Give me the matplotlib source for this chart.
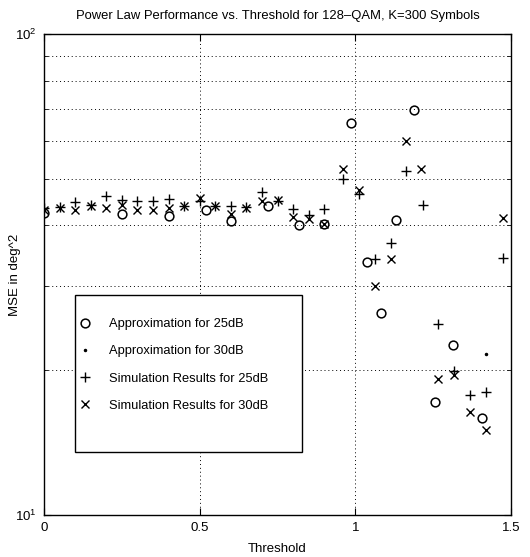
import matplotlib
matplotlib.use("Agg")
import matplotlib.pyplot as plt
from matplotlib.ticker import LogLocator, FixedLocator, NullFormatter
from matplotlib.patches import Rectangle

plt.rcParams['font.family'] = ['Liberation Sans', 'DejaVu Sans']
plt.rcParams['mathtext.fontset'] = 'custom'
plt.rcParams['mathtext.rm'] = 'Liberation Sans'

# Approximation for 25 dB (o)
approx25_x = [0.0, 0.25, 0.40, 0.52, 0.60, 0.72, 0.82, 0.90, 0.985, 1.036, 1.084, 1.13, 1.19, 1.256, 1.315, 1.407]
approx25_y = [42.4, 42.2, 41.9, 43.1, 40.9, 43.8, 40.0, 40.2, 65.2, 33.6, 26.3, 41.1, 69.5, 17.2, 22.6, 15.9]

# Approximation for 30 dB (.)
approx30_x = [1.42]
approx30_y = [21.6]

# Simulation results for 25 dB (+)
sim25_x = [0.0, 0.05, 0.10, 0.15, 0.20, 0.25, 0.30, 0.35, 0.40, 0.45, 0.50, 0.55, 0.60, 0.65, 0.70, 0.75, 0.80, 0.85, 0.90,
           0.961, 1.012, 1.063, 1.116, 1.163, 1.216, 1.266, 1.317, 1.368, 1.42, 1.475]
sim25_y = [43.5, 43.6, 44.8, 44.0, 46.1, 45.2, 45.0, 45.0, 45.4, 43.9, 45.0, 43.9, 43.8, 43.6, 46.9, 45.0, 43.3, 42.0, 43.3,
           49.9, 46.6, 34.0, 36.8, 51.9, 44.1, 24.9, 19.9, 17.8, 18.0, 34.3]

# Simulation results for 30 dB (x)
sim30_x = [0.0, 0.05, 0.10, 0.15, 0.20, 0.25, 0.30, 0.35, 0.40, 0.45, 0.50, 0.55, 0.60, 0.65, 0.70, 0.75, 0.80, 0.85, 0.90,
           0.961, 1.012, 1.063, 1.114, 1.162, 1.212, 1.266, 1.317, 1.369, 1.42, 1.473]
sim30_y = [43.1, 43.4, 43.1, 43.8, 43.4, 44.0, 43.1, 43.1, 43.5, 43.8, 45.7, 43.8, 42.2, 43.5, 45.0, 45.2, 41.7, 41.3, 40.2,
           52.4, 47.4, 29.9, 34.0, 59.9, 52.4, 19.2, 19.5, 16.4, 15.0, 41.5]

labels = ['Approximation for 25dB', 'Approximation for 30dB',
          'Simulation Results for 25dB', 'Simulation Results for 30dB']
title = 'Power Law Performance vs. Threshold for 128\u2013QAM, K=300 Symbols'

fig = plt.figure(figsize=(5.30, 5.57), dpi=100)
ax = fig.add_axes([44/530, 42/557, 467/530, 481/557])

ax.plot(approx25_x, approx25_y, linestyle='none', marker='o', markersize=6.3, markerfacecolor='none',
        markeredgecolor='black', markeredgewidth=1.1, label=labels[0])
ax.plot(approx30_x, approx30_y, linestyle='none', marker='.', markersize=3, color='black', label=labels[1])
ax.plot(sim25_x, sim25_y, linestyle='none', marker='+', markersize=7, color='black', markeredgewidth=1.0, label=labels[2])
ax.plot(sim30_x, sim30_y, linestyle='none', marker='x', markersize=6.3, color='black', markeredgewidth=1.0, label=labels[3])

ax.set_yscale('log')
ax.set_xlim(0, 1.5)
ax.set_ylim(10, 100)
ax.xaxis.set_major_locator(FixedLocator([0, 0.5, 1, 1.5]))
ax.set_xticklabels(['0', '0.5', '1', '1.5'])
ax.yaxis.set_major_locator(FixedLocator([10, 100]))
ax.yaxis.set_minor_locator(LogLocator(base=10, subs=range(2, 10)))
ax.yaxis.set_minor_formatter(NullFormatter())

ax.grid(True, which='both', linestyle=(0, (1, 3)), color='black', linewidth=0.7)
ax.tick_params(which='both', direction='in', top=True, right=True, labelsize=9.5, color='black')
ax.tick_params(which='major', length=5, pad=5)
ax.tick_params(which='minor', length=3)
for s in ax.spines.values():
    s.set_linewidth(1.0)
    s.set_color('black')

ax.set_title(title, fontsize=9.4, pad=11)
ax.set_xlabel('Threshold', fontsize=9.5)
ax.xaxis.set_label_coords(0.5, -0.058)
ax.set_ylabel('MSE in deg^2', fontsize=9.5)
ax.yaxis.set_label_coords(-0.05, 0.5)

# legend box (drawn as in the reference)
ax.add_patch(Rectangle((0.066, 0.131), 0.486, 0.326, transform=ax.transAxes, facecolor='white',
                       edgecolor='black', linewidth=1.0, zorder=4))
leg = ax.legend(loc='upper left', bbox_to_anchor=(0.075, 0.409), frameon=False,
                fontsize=9.3, handlelength=1.0, handletextpad=1.35, labelspacing=1.17,
                borderpad=0.0, borderaxespad=0.0)
leg.set_zorder(5)

fig.savefig('out.png', dpi=100)
